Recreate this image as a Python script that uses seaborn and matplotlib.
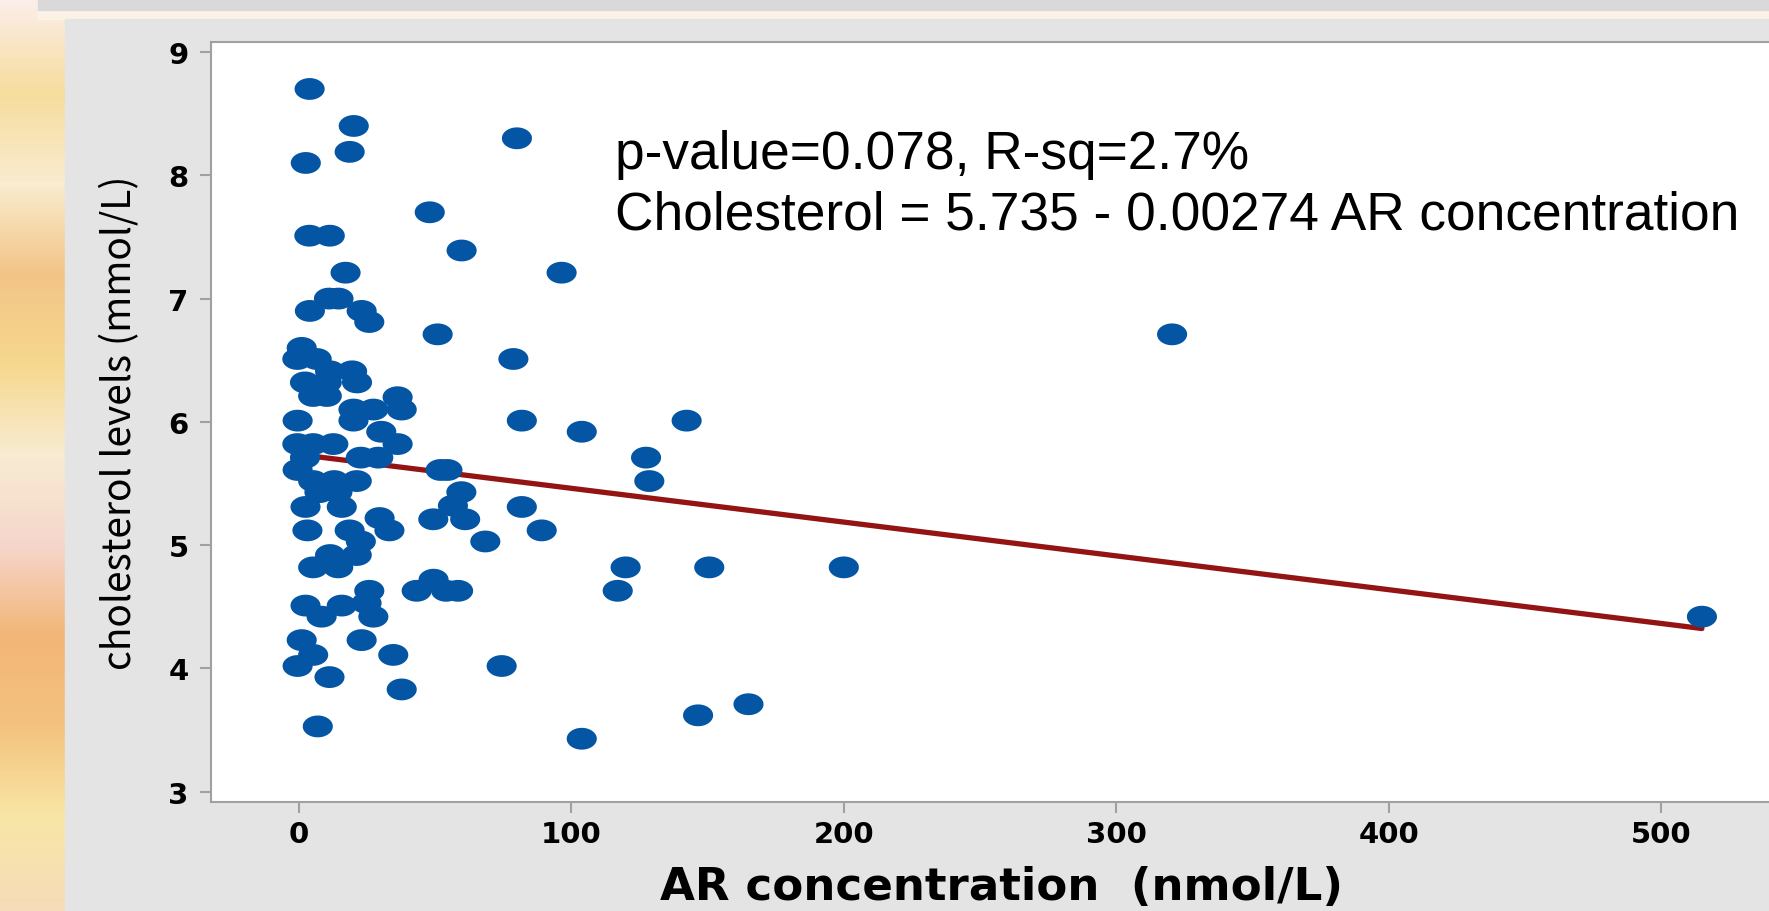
import numpy as np
import pandas as pd
import matplotlib
matplotlib.use('Agg')
import matplotlib.pyplot as plt
import seaborn as sns
from matplotlib.path import Path
from matplotlib.patches import Rectangle
from matplotlib.colors import LinearSegmentedColormap

# values
ar_conc = [3.9, 20.1, 18.6, 2.5, 80.0, 48.0, 3.8, 11.3, 59.7, 17.1,
           96.4, 11.0, 14.5, 4.0, 23.0, 25.8, 50.9, 320.5, 1.0, -0.6,
           6.5, 78.7, 11.4, 19.5, 2.2, 10.2, 21.3, 5.2, 10.2, 36.2,
           20.0, 27.3, 37.7, -0.5, 20.0, 81.8, 142.3, 30.2, 103.8, -0.6,
           5.2, 12.6, 36.2, 2.2, 22.7, 29.1, 127.4, -0.5, 52.0, 54.5,
           5.2, 12.9, 21.2, 128.6, 7.5, 14.1, 59.6, 2.4, 15.7, 56.5,
           81.8, 29.6, 49.3, 61.0, 3.1, 18.6, 33.2, 89.1, 22.7, 68.4,
           11.4, 21.2, 5.2, 14.4, 119.9, 150.6, 200.0, 25.8, 43.2, 49.4,
           54.0, 58.4, 117.0, 2.4, 15.7, 24.8, 8.3, 27.3, 515.0, 1.0,
           23.0, 5.2, 34.6, -0.5, 74.4, 11.2, 37.7, 6.9, 103.8, 146.5,
           165.0]
cholesterol = [8.70, 8.40, 8.19, 8.10, 8.30, 7.70, 7.51, 7.51, 7.39, 7.21,
               7.21, 7.00, 7.00, 6.90, 6.90, 6.81, 6.71, 6.71, 6.60, 6.51,
               6.51, 6.51, 6.41, 6.41, 6.32, 6.32, 6.32, 6.21, 6.21, 6.20,
               6.10, 6.10, 6.10, 6.01, 6.01, 6.01, 6.01, 5.92, 5.92, 5.82,
               5.82, 5.82, 5.82, 5.71, 5.71, 5.71, 5.71, 5.61, 5.61, 5.61,
               5.52, 5.52, 5.52, 5.52, 5.43, 5.43, 5.43, 5.31, 5.31, 5.32,
               5.31, 5.22, 5.21, 5.21, 5.12, 5.12, 5.12, 5.12, 5.03, 5.03,
               4.92, 4.92, 4.82, 4.82, 4.82, 4.82, 4.82, 4.63, 4.63, 4.72,
               4.63, 4.63, 4.63, 4.51, 4.51, 4.53, 4.42, 4.42, 4.42, 4.23,
               4.23, 4.11, 4.11, 4.02, 4.02, 3.93, 3.83, 3.53, 3.43, 3.62,
               3.71]
fit_x = [7, 515]
fit_y = [5.716, 4.324]
x_ticks = [0, 100, 200, 300, 400, 500]
y_ticks = [3, 4, 5, 6, 7, 8, 9]
stats_text = 'p-value=0.078, R-sq=2.7%'
eq_text = 'Cholesterol = 5.735 - 0.00274 AR concentration'
x_label = 'AR concentration  (nmol/L)'
y_label = 'cholesterol levels (mmol/L)'

df = pd.DataFrame({'ar': ar_conc, 'chol': cholesterol})

sns.set_style('white')
plt.rcParams['font.family'] = ['DejaVu Sans']
plt.rcParams['text.color'] = 'black'

W, H = 1769, 912
fig = plt.figure(figsize=(W / 100, H / 100), dpi=100)

# slide background: blurred warm strip on the left
bg = fig.add_axes([0, 0, 1, 1], zorder=-3)
bg.axis('off')
strip = LinearSegmentedColormap.from_list('strip', [
    '#fbeee8', '#f6dc9c', '#f9eccf', '#f3c487', '#f6d88e', '#f8ecd2',
    '#f6d6cc', '#f2b677', '#f4c27e', '#f8e6a6', '#f6dcb8'])
bg.imshow(np.linspace(0, 1, 200).reshape(-1, 1), cmap=strip, aspect='auto',
          extent=[0, 1, 0, 1], interpolation='bilinear')

fig.add_artist(Rectangle((38 / W, 1 - 20 / H), 1, 9 / H, transform=fig.transFigure,
                         color='#fbf6ea', alpha=0.7, zorder=-2))
fig.add_artist(Rectangle((38 / W, 1 - 11 / H), 1, 11 / H, transform=fig.transFigure,
                         color='#d9d9d9', zorder=-2))
fig.add_artist(Rectangle((65 / W, 0), 1, 1 - 20 / H, transform=fig.transFigure,
                         color='#e4e4e4', zorder=-2))

ax = fig.add_axes([211 / W, 109 / H, (1800 - 211) / W, 760 / H])
ax.set_facecolor('white')

ellipse = Path(np.column_stack([1.38 * np.cos(np.linspace(0, 2 * np.pi, 64)),
                                np.sin(np.linspace(0, 2 * np.pi, 64))]), closed=True)

sns.lineplot(x=fit_x, y=fit_y, color='#941414', linewidth=3.8, ax=ax, zorder=2)
sns.scatterplot(data=df, x='ar', y='chol', marker=ellipse, s=470, color='#0455a4',
                edgecolor='none', linewidth=0, ax=ax, zorder=3)

ax.set_xlim(-32.3, 551)
ax.set_ylim(2.917, 9.081)
ax.set_xticks(x_ticks)
ax.set_yticks(y_ticks)
for s in ax.spines.values():
    s.set_color('#a0a0a0')
    s.set_linewidth(1.5)
ax.tick_params(bottom=True, left=True, direction='out', length=8, width=1.5,
               color='#a0a0a0', labelsize=21, labelcolor='black')
ax.tick_params(axis='x', pad=5)
ax.tick_params(axis='y', pad=8)
for lab in ax.get_xticklabels() + ax.get_yticklabels():
    lab.set_fontweight('bold')

ax.set_xlabel(x_label, fontsize=32.5, fontweight='bold', color='black')
ax.xaxis.set_label_coords((1001 - 211) / 1589, (803 - 888) / 760)
ax.xaxis.label.set_verticalalignment('center')
ax.set_ylabel(y_label, fontsize=28, color='black',
              family=['Noto Sans CJK JP', 'DejaVu Sans'])
ax.yaxis.set_label_coords((120 - 211) / 1589, 0.5)
ax.yaxis.label.set_verticalalignment('center')

fig.text(615 / W, 1 - 169 / H, stats_text, fontsize=38.3, family='Liberation Sans',
         va='baseline', ha='left', color='black')
fig.text(615 / W, 1 - 230 / H, eq_text, fontsize=38.3, family='Liberation Sans',
         va='baseline', ha='left', color='black')

fig.savefig('out.png', dpi=100)
plt.close(fig)
